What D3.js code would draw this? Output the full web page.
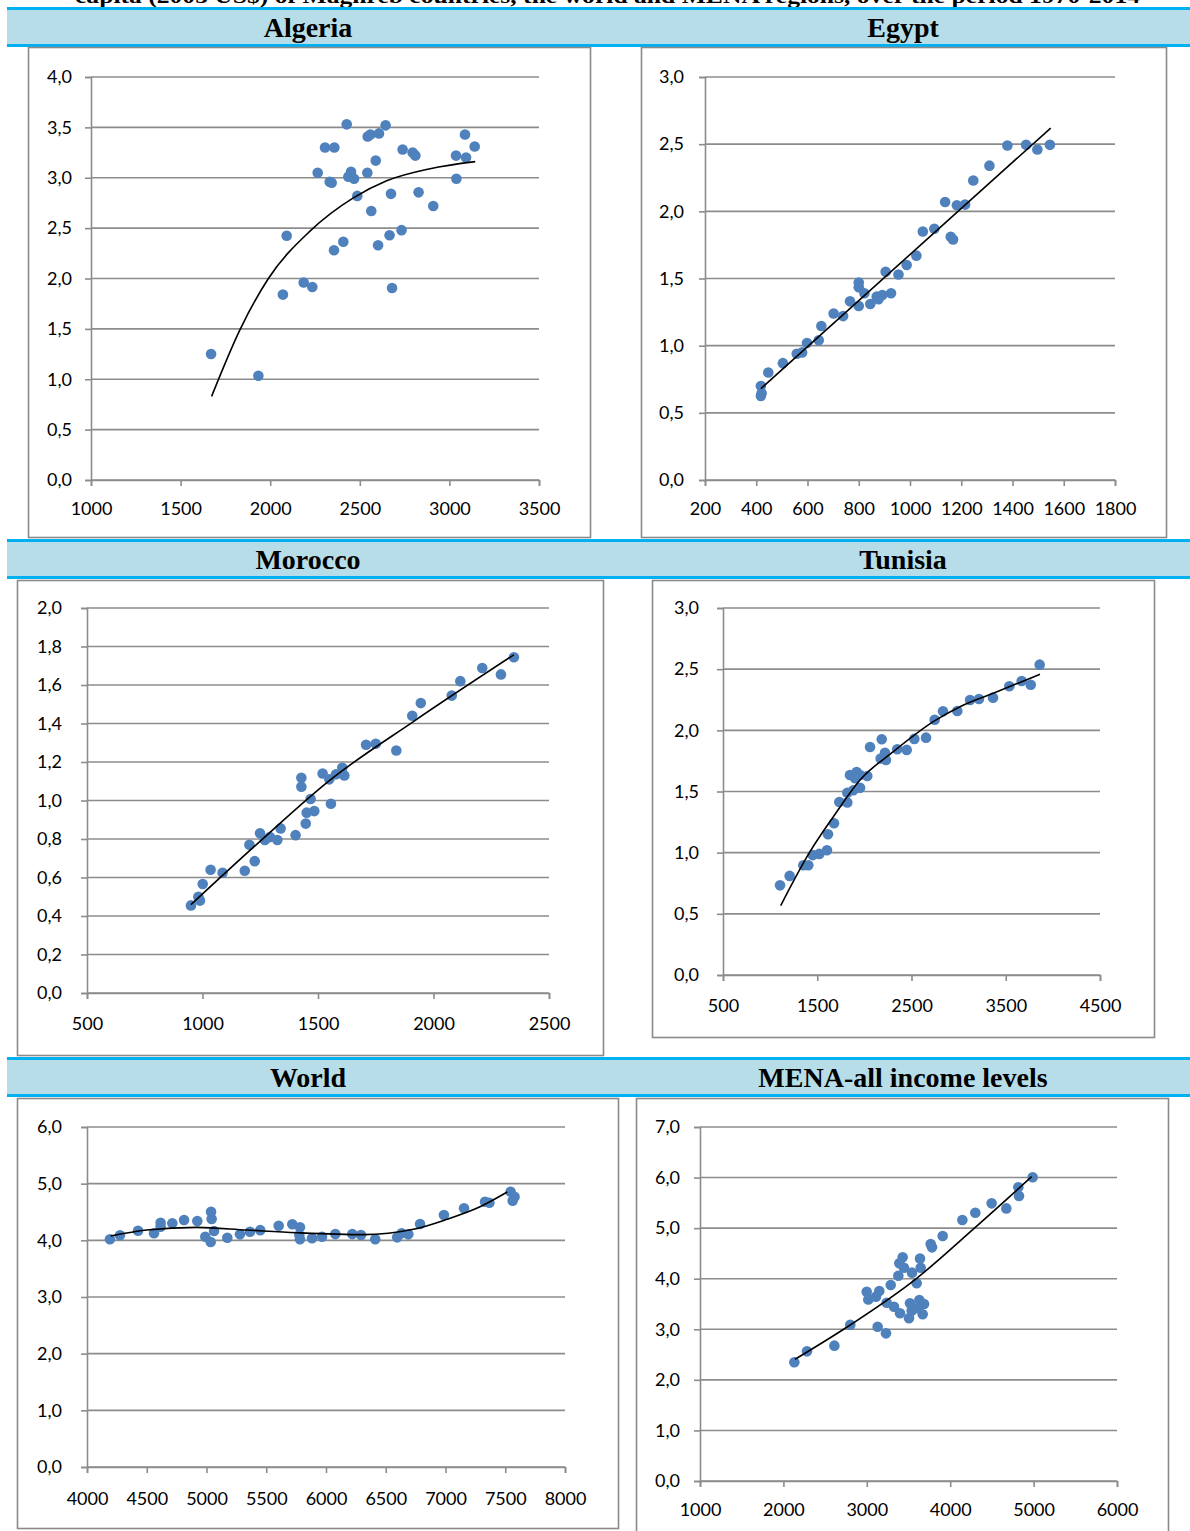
<!DOCTYPE html>
<html>
<head>
<meta charset="utf-8">
<script src="https://cdn.jsdelivr.net/npm/d3@7"></script>
<style>
  html, body { margin: 0; padding: 0; background: #fff; }
  svg { display: block; }
  .tick text { font-family: Lato, "Open Sans", sans-serif; font-size: 18px; fill: #000; }
  .title { font-family: "Liberation Serif", "Times New Roman", serif; font-weight: bold; font-size: 28px; fill: #000; }
</style>
</head>
<body>
<svg id="chart" width="1190" height="1531"></svg>
<script>
// ---- Data: [income per capita, value] pairs for each region ----
const algeriaPoints = [
  [1670, 1.25], [1934, 1.035], [2092, 2.425], [2071, 1.84], [2187, 1.96], [2235, 1.915],
  [2265, 3.05], [2306, 3.30], [2358, 3.30], [2332, 2.96], [2343, 2.95], [2356, 2.28],
  [2408, 2.365], [2427, 3.53], [2436, 3.01], [2451, 3.06], [2468, 2.99], [2486, 2.82],
  [2542, 3.05], [2544, 3.41], [2559, 3.43], [2564, 2.67], [2589, 3.17], [2602, 2.33],
  [2607, 3.44], [2644, 3.52], [2666, 2.43], [2674, 2.84], [2680, 1.905], [2733, 2.48],
  [2739, 3.28], [2795, 3.25], [2810, 3.22], [2828, 2.855], [2910, 2.72], [3037, 3.22],
  [3039, 2.99], [3087, 3.43], [3093, 3.20], [3141, 3.31]
];
const algeriaTrend = [
  [1673, 0.83], [1831, 1.49], [1990, 2.0], [2222, 2.47], [2464, 2.80],
  [2650, 2.97], [2892, 3.09], [3144, 3.16]
];

const egyptPoints = [
  [418, 0.70], [421, 0.645], [418, 0.625], [447, 0.80], [504, 0.87], [558, 0.94],
  [579, 0.95], [598, 1.02], [644, 1.04], [654, 1.146], [702, 1.24], [739, 1.22],
  [766, 1.33], [800, 1.47], [800, 1.435], [800, 1.295], [822, 1.39], [845, 1.31],
  [870, 1.365], [877, 1.345], [892, 1.377], [926, 1.39], [905, 1.55], [955, 1.53],
  [987, 1.60], [1025, 1.67], [1050, 1.85], [1095, 1.87], [1159, 1.81], [1168, 1.79],
  [1137, 2.07], [1183, 2.045], [1215, 2.05], [1247, 2.23], [1310, 2.34], [1380, 2.49],
  [1453, 2.495], [1497, 2.46], [1546, 2.495]
];
const egyptTrend = [[418, 0.68], [1549, 2.62]];

const moroccoPoints = [
  [950, 0.455], [982, 0.50], [989, 0.48], [1001, 0.566], [1035, 0.64], [1087, 0.625],
  [1183, 0.635], [1203, 0.77], [1226, 0.685], [1249, 0.83], [1270, 0.795], [1292, 0.81],
  [1324, 0.795], [1338, 0.855], [1403, 0.82], [1428, 1.118], [1428, 1.072], [1447, 0.88],
  [1451, 0.937], [1484, 0.945], [1468, 1.008], [1520, 1.14], [1549, 1.11], [1556, 0.983],
  [1578, 1.136], [1605, 1.17], [1614, 1.13], [1708, 1.29], [1750, 1.295], [1839, 1.26],
  [1908, 1.44], [1945, 1.506], [2079, 1.545], [2116, 1.62], [2211, 1.688], [2292, 1.655],
  [2348, 1.744]
];
const moroccoTrend = [[950, 0.459], [1249, 0.788], [1552, 1.106], [1913, 1.41], [2348, 1.757]];

const tunisiaPoints = [
  [1105, 0.733], [1207, 0.81], [1352, 0.897], [1405, 0.897], [1452, 0.98], [1522, 0.99],
  [1603, 1.02], [1614, 1.15], [1678, 1.24], [1734, 1.414], [1819, 1.41], [1819, 1.49],
  [1883, 1.51], [1954, 1.53], [1847, 1.635], [1918, 1.66], [1954, 1.635], [2031, 1.627],
  [1901, 1.608], [2060, 1.864], [2184, 1.927], [2173, 1.77], [2219, 1.817], [2229, 1.757],
  [2349, 1.845], [2449, 1.84], [2530, 1.93], [2654, 1.94], [2746, 2.087], [2834, 2.155],
  [2986, 2.158], [3121, 2.248], [3216, 2.256], [3365, 2.267], [3538, 2.36], [3669, 2.403],
  [3765, 2.373], [3860, 2.537]
];
const tunisiaTrend = [
  [1112, 0.567], [1423, 1.008], [1671, 1.294], [1954, 1.594], [2307, 1.826],
  [2731, 2.071], [3015, 2.193], [3368, 2.303], [3863, 2.458]
];

const worldPoints = [
  [4192, 4.018], [4276, 4.09], [4427, 4.17], [4561, 4.124], [4616, 4.31], [4616, 4.24],
  [4714, 4.30], [4812, 4.36], [4923, 4.34], [5038, 4.505], [5043, 4.376], [4990, 4.064],
  [5035, 3.97], [5063, 4.165], [5174, 4.046], [5280, 4.106], [5364, 4.152], [5450, 4.18],
  [5604, 4.258], [5718, 4.283], [5782, 4.23], [5777, 4.094], [5782, 4.018], [5883, 4.036],
  [5967, 4.064], [6078, 4.11], [6220, 4.11], [6293, 4.094], [6412, 4.018], [6596, 4.053],
  [6633, 4.124], [6689, 4.106], [6787, 4.288], [6987, 4.447], [7155, 4.565], [7331, 4.68],
  [7367, 4.664], [7545, 4.858], [7562, 4.70], [7578, 4.77]
];
const worldTrend = [
  [4198, 4.076], [4499, 4.182], [4918, 4.229], [5336, 4.182], [5755, 4.135],
  [6312, 4.10], [6731, 4.194], [7010, 4.37], [7289, 4.593], [7517, 4.853]
];

const menaPoints = [
  [2131, 2.347], [2283, 2.564], [2611, 2.676], [2802, 3.09], [3130, 3.05], [3230, 2.92],
  [2999, 3.74], [3018, 3.59], [3110, 3.645], [3150, 3.757], [3238, 3.526], [3287, 3.876],
  [3326, 3.447], [3398, 3.316], [3378, 4.06], [3390, 4.305], [3430, 4.423], [3446, 4.218],
  [3506, 3.217], [3518, 3.514], [3538, 3.368], [3542, 4.12], [3598, 3.909], [3638, 4.40],
  [3646, 4.218], [3630, 3.58], [3686, 3.50], [3670, 3.296], [3618, 3.415], [3766, 4.686],
  [3782, 4.62], [3910, 4.845], [4146, 5.16], [4301, 5.305], [4497, 5.49], [4673, 5.39],
  [4817, 5.81], [4825, 5.636], [4989, 6.005]
];
const menaTrend = [[2139, 2.407], [2727, 3.006], [3598, 4.008], [4297, 5.01], [4977, 6.017]];

// ---- Tick values ----
const algeriaXTicks = [1000, 1500, 2000, 2500, 3000, 3500];
const algeriaYTicks = [0, 0.5, 1, 1.5, 2, 2.5, 3, 3.5, 4];
const egyptXTicks = [200, 400, 600, 800, 1000, 1200, 1400, 1600, 1800];
const egyptYTicks = [0, 0.5, 1, 1.5, 2, 2.5, 3];
const moroccoXTicks = [500, 1000, 1500, 2000, 2500];
const moroccoYTicks = [0, 0.2, 0.4, 0.6, 0.8, 1, 1.2, 1.4, 1.6, 1.8, 2];
const tunisiaXTicks = [500, 1500, 2500, 3500, 4500];
const tunisiaYTicks = [0, 0.5, 1, 1.5, 2, 2.5, 3];
const worldXTicks = [4000, 4500, 5000, 5500, 6000, 6500, 7000, 7500, 8000];
const worldYTicks = [0, 1, 2, 3, 4, 5, 6];
const menaXTicks = [1000, 2000, 3000, 4000, 5000, 6000];
const menaYTicks = [0, 1, 2, 3, 4, 5, 6, 7];

const titles = ["Algeria", "Egypt", "Morocco", "Tunisia", "World", "MENA-all income levels"];
const caption = "capita (2005 US$) of Maghreb countries, the world and MENA regions, over the period 1970-2014";

// ---- Layout ----
const COLOR_DOT = "#4F81BD";
const COLOR_GRID = "#8c8c8c";
const COLOR_FRAME = "#8a8a8a";
const COLOR_BAND = "#B7DDE8";
const COLOR_RULE = "#00B0F0";

const bands = [
  { y: 7, titles: [{ text: titles[0], x: 308 }, { text: titles[1], x: 903 }] },
  { y: 539, titles: [{ text: titles[2], x: 308 }, { text: titles[3], x: 903 }] },
  { y: 1057, titles: [{ text: titles[4], x: 308 }, { text: titles[5], x: 903 }] }
];

const panels = [
  { frame: [28, 47, 590, 537], plot: [91, 77, 539, 480], xTicks: algeriaXTicks, yTicks: algeriaYTicks,
    points: algeriaPoints, trend: algeriaTrend, ygap: 13, xgap: 16 },
  { frame: [641, 47, 1166, 537], plot: [705, 77, 1115, 480], xTicks: egyptXTicks, yTicks: egyptYTicks,
    points: egyptPoints, trend: egyptTrend, ygap: 15, xgap: 16 },
  { frame: [17, 580, 603, 1055], plot: [87, 608, 549, 993], xTicks: moroccoXTicks, yTicks: moroccoYTicks,
    points: moroccoPoints, trend: moroccoTrend, ygap: 19, xgap: 18 },
  { frame: [652, 580, 1154, 1037], plot: [723, 608, 1100, 975], xTicks: tunisiaXTicks, yTicks: tunisiaYTicks,
    points: tunisiaPoints, trend: tunisiaTrend, ygap: 18, xgap: 18 },
  { frame: [17, 1098, 618, 1528], plot: [87, 1127, 565, 1467], xTicks: worldXTicks, yTicks: worldYTicks,
    points: worldPoints, trend: worldTrend, ygap: 19, xgap: 19 },
  { frame: [636, 1098, 1168, 1540], plot: [700, 1127, 1117, 1481], xTicks: menaXTicks, yTicks: menaYTicks,
    points: menaPoints, trend: menaTrend, ygap: 14, xgap: 16 }
];

const svg = d3.select("#chart");
const commaLocale = d3.formatLocale({ decimal: ",", thousands: "", grouping: [3], currency: ["", ""] });
const fmtY = commaLocale.format(".1f");

// Caption line running above the first band; only its lower part sits on the page
svg.append("text")
  .attr("class", "title")
  .attr("x", 75).attr("y", 3)
  .attr("textLength", 1065)
  .attr("lengthAdjust", "spacingAndGlyphs")
  .style("font-size", "22px")
  .text(caption);

// Title bands
bands.forEach(b => {
  svg.append("rect").attr("x", 7).attr("y", b.y).attr("width", 1183).attr("height", 40).attr("fill", COLOR_BAND);
  svg.append("rect").attr("x", 7).attr("y", b.y).attr("width", 1183).attr("height", 3).attr("fill", COLOR_RULE);
  svg.append("rect").attr("x", 7).attr("y", b.y + 37).attr("width", 1183).attr("height", 3).attr("fill", COLOR_RULE);
  b.titles.forEach(t => {
    svg.append("text").attr("class", "title")
      .attr("x", t.x).attr("y", b.y + 30)
      .attr("text-anchor", "middle")
      .text(t.text);
  });
});

// Scatter panels
panels.forEach(p => {
  const [fx0, fy0, fx1, fy1] = p.frame;
  const [left, top, right, bottom] = p.plot;
  const g = svg.append("g");

  g.append("rect")
    .attr("x", fx0 + 0.5).attr("y", fy0 + 0.5)
    .attr("width", fx1 - fx0).attr("height", fy1 - fy0)
    .attr("fill", "#fff").attr("stroke", COLOR_FRAME).attr("stroke-width", 1.6);

  const x = d3.scaleLinear()
    .domain([p.xTicks[0], p.xTicks[p.xTicks.length - 1]])
    .range([left, right]);
  const y = d3.scaleLinear()
    .domain([p.yTicks[0], p.yTicks[p.yTicks.length - 1]])
    .range([bottom, top]);

  // Horizontal gridlines
  g.append("g").selectAll("line").data(p.yTicks).join("line")
    .attr("x1", left).attr("x2", right)
    .attr("y1", d => y(d)).attr("y2", d => y(d))
    .attr("stroke", COLOR_GRID).attr("stroke-width", 1.6);

  // Y axis
  const yAxis = g.append("g")
    .attr("transform", `translate(${left},0)`)
    .call(d3.axisLeft(y).tickValues(p.yTicks).tickSize(6).tickPadding(p.ygap).tickFormat(fmtY));
  yAxis.select(".domain").attr("stroke", COLOR_GRID).attr("stroke-width", 1.6);
  yAxis.selectAll(".tick line").attr("stroke", COLOR_GRID).attr("stroke-width", 1.6);

  // X axis
  const xAxis = g.append("g")
    .attr("transform", `translate(0,${bottom})`)
    .call(d3.axisBottom(x).tickValues(p.xTicks).tickSize(6).tickPadding(p.xgap).tickFormat(d3.format("d")));
  xAxis.select(".domain").attr("stroke", COLOR_GRID).attr("stroke-width", 1.6);
  xAxis.selectAll(".tick line").attr("stroke", COLOR_GRID).attr("stroke-width", 1.6);

  // Points
  g.append("g").selectAll("circle").data(p.points).join("circle")
    .attr("cx", d => x(d[0])).attr("cy", d => y(d[1]))
    .attr("r", 5.3)
    .attr("fill", COLOR_DOT);

  // Trend line
  g.append("path")
    .datum(p.trend)
    .attr("fill", "none")
    .attr("stroke", "#000")
    .attr("stroke-width", 1.6)
    .attr("d", d3.line().x(d => x(d[0])).y(d => y(d[1])).curve(d3.curveMonotoneX));
});
</script>
</body>
</html>
